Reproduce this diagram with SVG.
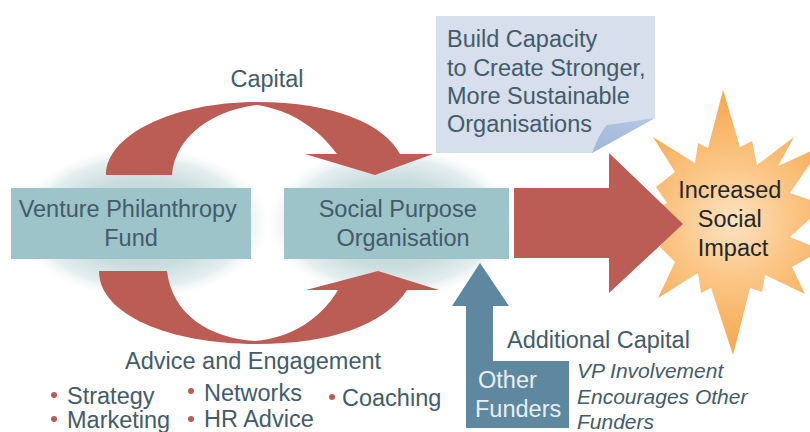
<svg xmlns="http://www.w3.org/2000/svg" width="810" height="432" viewBox="0 0 810 432">
  <defs>
    <radialGradient id="halo" cx="0.5" cy="0.5" r="0.5">
      <stop offset="0" stop-color="#b3ced1"/>
      <stop offset="0.55" stop-color="#c9dcde"/>
      <stop offset="0.82" stop-color="#e5eeee"/>
      <stop offset="1" stop-color="#ffffff" stop-opacity="0"/>
    </radialGradient>
    <radialGradient id="burst" gradientUnits="userSpaceOnUse" cx="733" cy="222" r="120">
      <stop offset="0" stop-color="#fde3c4"/>
      <stop offset="0.45" stop-color="#fbc88a"/>
      <stop offset="1" stop-color="#f7ab55"/>
    </radialGradient>
    <linearGradient id="fold" x1="0" y1="1" x2="1" y2="0">
      <stop offset="0" stop-color="#9fb7da"/>
      <stop offset="1" stop-color="#b6c8e3"/>
    </linearGradient>
    <style>
      .lbl { font-family: "Liberation Sans", Arial, sans-serif; font-size: 23.5px; fill: #435b6a; }
      .node rect { fill: #9dc4c8; }
      .loop { fill: #bb5c55; }
      .dot { fill: #bb5c55; }
      .note { font-family: "Liberation Sans", Arial, sans-serif; font-size: 21px; font-style: italic; fill: #435b6a; }
    </style>
  </defs>

  <!-- soft halos behind the two boxes -->
  <ellipse cx="143" cy="223" rx="130" ry="78" fill="url(#halo)"/>
  <ellipse cx="392" cy="223" rx="128" ry="78" fill="url(#halo)"/>

  <!-- impact burst -->
  <g id="impact">
    <polygon fill="url(#burst)" points="723,90 740,147 752,141 757,165 794,137 778,166 822,146 790,193 825,205 790,237 822,250 792,267 805,294 765,275 762,292 750,288 733,355 711,288 701,293 698,273 658,298 675,262 660,247 668,228 650,212 667,203 656,187 675,172 653,137 695,163 698,143 708,148"/>
    <text class="lbl" text-anchor="middle" style="fill:#262626">
      <tspan x="733" y="198">Increased</tspan>
      <tspan x="733" y="227">Social</tspan>
      <tspan x="733" y="256">Impact</tspan>
    </text>
  </g>

  <!-- connectors -->
  <g id="connectors">
    <!-- capital loop (top) -->
    <path class="loop" d="M106,175 C106,135 173,102 257,102 C335,102 385,125 400,154 L433,154 L375,175 L305,154 L337,154 C318,128 290,110 257,105 C215,110 175,135 172,175 Z"/>
    <!-- advice loop (bottom) -->
    <path class="loop" d="M99,271 C99,315 170,344 257,344 C330,344 385,325 407,290 L439,290 L378,271 L306,290 L338,290 C320,320 290,338 255,341 C210,338 172,315 167,271 Z"/>
    <!-- outcome arrow -->
    <polygon fill="#bb5c55" points="514,188 609,188 609,153 683,224 609,293 609,258 514,258"/>
    <!-- additional capital arrow -->
    <polygon fill="#5e87a0" points="480,263 509,306 493,306 493,361 569,361 569,428 466,428 466,306 452,306"/>
  </g>

  <!-- capacity callout -->
  <g id="callout">
    <polygon fill="#d6dfeb" points="436,16 655,16 655,118 592,153 436,153"/>
    <path fill="url(#fold)" d="M592,153 Q600,132 607,125 Q630,122 655,118 Z"/>
    <text class="lbl">
      <tspan x="447" y="47">Build Capacity</tspan>
      <tspan x="447" y="76">to Create Stronger,</tspan>
      <tspan x="447" y="104">More Sustainable</tspan>
      <tspan x="447" y="132">Organisations</tspan>
    </text>
  </g>

  <g id="vp-fund" class="node">
    <rect x="11" y="188" width="240" height="71"/>
    <text class="lbl" text-anchor="middle">
      <tspan x="131" y="217">Venture Philanthropy</tspan>
      <tspan x="131" y="246">Fund</tspan>
    </text>
  </g>

  <g id="spo" class="node">
    <rect x="284" y="188" width="225" height="71"/>
    <text class="lbl" text-anchor="middle">
      <tspan x="401" y="217">Social Purpose</tspan>
      <tspan x="403" y="246">Organisation</tspan>
    </text>
  </g>

  <g id="other-funders">
    <text class="lbl" style="fill:#e8eff3">
      <tspan x="478" y="388">Other</tspan>
      <tspan x="475" y="417">Funders</tspan>
    </text>
  </g>

  <!-- labels -->
  <text class="lbl" x="267" y="87" text-anchor="middle">Capital</text>
  <text class="lbl" x="507" y="348">Additional Capital</text>
  <text class="note">
    <tspan x="577" y="378">VP Involvement</tspan>
    <tspan x="577" y="404">Encourages Other</tspan>
    <tspan x="577" y="429">Funders</tspan>
  </text>

  <g id="advice">
    <text class="lbl" x="125" y="369">Advice and Engagement</text>
    <circle class="dot" cx="54" cy="395" r="3"/>
    <text class="lbl" x="67" y="404">Strategy</text>
    <circle class="dot" cx="191" cy="391" r="3"/>
    <text class="lbl" x="204" y="401">Networks</text>
    <circle class="dot" cx="332" cy="397" r="3"/>
    <text class="lbl" x="342" y="406">Coaching</text>
    <circle class="dot" cx="54" cy="419" r="3"/>
    <text class="lbl" x="67" y="428">Marketing</text>
    <circle class="dot" cx="191" cy="419" r="3"/>
    <text class="lbl" x="204" y="427">HR Advice</text>
  </g>
</svg>
